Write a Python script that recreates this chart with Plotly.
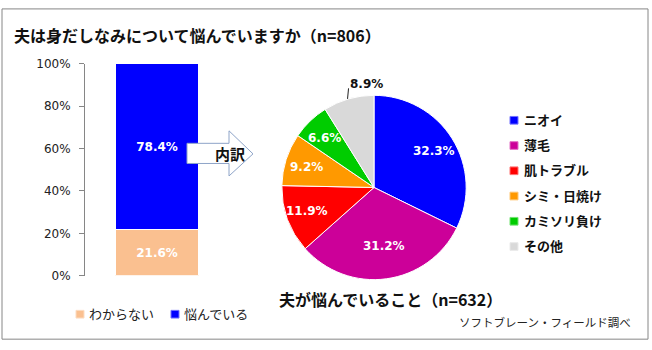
import math
import plotly.graph_objects as go

# --- data ---------------------------------------------------------------
bar_labels = ["わからない", "悩んでいる"]
bar_values = [21.6, 78.4]
bar_colors = ["#FAC090", "#0000FF"]

pie_labels = ["ニオイ", "薄毛", "肌トラブル", "シミ・日焼け", "カミソリ負け", "その他"]
pie_values = [32.3, 31.2, 11.9, 9.2, 6.6, 8.9]
pie_colors = ["#0000FF", "#CC0099", "#FF0000", "#FF9900", "#00CC00", "#D9D9D9"]

y_ticks = [0, 20, 40, 60, 80, 100]
y_tick_labels = [f"{v}%" for v in y_ticks]

title_main = "夫は身だしなみについて悩んでいますか（n=806）"
title_pie = "夫が悩んでいること（n=632）"
source_note = "ソフトブレーン・フィールド調べ"

# --- canvas helpers -----------------------------------------------------
W, H = 652, 350
JP = "Noto Sans CJK JP"
NUM = "DejaVu Sans"


def px(x):
    return x / W


def py(y):
    return 1 - y / H


def lighten(hex_color, f=0.45):
    r, g, b = (int(hex_color[i:i + 2], 16) for i in (1, 3, 5))
    r, g, b = (int(c + (255 - c) * f) for c in (r, g, b))
    return f"#{r:02X}{g:02X}{b:02X}"


fig = go.Figure()

# --- stacked 100% bar ---------------------------------------------------
for name, val, col in zip(bar_labels, bar_values, bar_colors):
    fig.add_trace(go.Bar(
        x=[0], y=[val], name=name, width=0.583,
        marker=dict(color=col, line=dict(color="white", width=1)),
        text=[f"{val:.1f}%"], textposition="inside", insidetextanchor="middle",
        textfont=dict(family=NUM, size=12, color="white", weight="bold"),
        showlegend=False, hoverinfo="skip",
    ))

# --- pie ----------------------------------------------------------------
cx, cy, R = 374, 188, 96
fig.add_trace(go.Pie(
    labels=pie_labels, values=pie_values, sort=False, direction="clockwise",
    rotation=0, textinfo="none", hoverinfo="skip", showlegend=False,
    marker=dict(colors=pie_colors, line=dict(color="white", width=1)),
    domain=dict(x=[px(cx - R), px(cx + R)], y=[py(cy + R), py(cy - R)]),
))

annotations = []
shapes = []

# slice value labels placed along each slice's mid-angle
total = sum(pie_values)
cum = 0.0
for i, (lab, val) in enumerate(zip(pie_labels, pie_values)):
    mid = (cum + val / 2) / total * 2 * math.pi
    cum += val
    if i < len(pie_values) - 1:
        r = 0.74 * R
        annotations.append(dict(
            x=px(cx + r * math.sin(mid)), y=py(cy - r * math.cos(mid)),
            xref="paper", yref="paper", showarrow=False,
            text=f"<b>{val:.1f}%</b>",
            font=dict(family=NUM, size=12, color="white"),
        ))
    else:
        ex, ey = cx + R * math.sin(mid), cy - R * math.cos(mid)
        shapes.append(dict(type="line", xref="paper", yref="paper",
                           x0=px(ex), y0=py(ey), x1=px(ex + 1), y1=py(ey - 11),
                           line=dict(color="#202020", width=1)))
        annotations.append(dict(
            x=px(ex + 0.5), y=py(ey - 15), xref="paper", yref="paper",
            xanchor="left", yanchor="middle", showarrow=False,
            text=f"<b>{val:.1f}%</b>",
            font=dict(family=NUM, size=12, color="#111111"),
        ))

# pie legend
for i, (lab, col) in enumerate(zip(pie_labels, pie_colors)):
    yc = 117 + 26.3 * i
    shapes.append(dict(type="rect", xref="paper", yref="paper",
                       x0=px(510), x1=px(518), y0=py(yc + 5), y1=py(yc - 3),
                       fillcolor=col, line=dict(color=lighten(col), width=1)))
    annotations.append(dict(
        x=px(522), y=py(yc), xref="paper", yref="paper",
        xanchor="left", yanchor="middle", showarrow=False,
        text=f"<b>{lab}</b>", font=dict(family=JP, size=13, color="#111111"),
    ))

# bar legend
for lab, col, x0 in zip(bar_labels, bar_colors, [76, 171]):
    yc = 319
    shapes.append(dict(type="rect", xref="paper", yref="paper",
                       x0=px(x0), x1=px(x0 + 8), y0=py(yc + 5), y1=py(yc - 3),
                       fillcolor=col, line=dict(color=lighten(col), width=1)))
    annotations.append(dict(
        x=px(x0 + 11), y=py(yc), xref="paper", yref="paper",
        xanchor="left", yanchor="middle", showarrow=False,
        text=lab, font=dict(family=JP, size=13, color="#222222"),
    ))

# "内訳" arrow callout
arrow_path = ("M {} {} L {} {} L {} {} L {} {} L {} {} L {} {} L {} {} Z".format(
    px(187), py(142), px(229), py(142), px(229), py(129), px(253), py(153),
    px(229), py(176), px(229), py(163), px(187), py(163)))
shapes.append(dict(type="path", xref="paper", yref="paper", path=arrow_path,
                   fillcolor="white", line=dict(color="#8EA4C8", width=1)))
annotations.append(dict(
    x=px(213), y=py(152.5), xref="paper", yref="paper", showarrow=False,
    text="<b>内訳</b>", font=dict(family=JP, size=15, color="#111111"),
))

# titles and source
annotations.append(dict(
    x=px(12), y=py(29), xref="paper", yref="paper", xanchor="left",
    yanchor="middle", showarrow=False, text=f"<b>{title_main}</b>",
    font=dict(family=JP, size=16, color="#111111"),
))
annotations.append(dict(
    x=px(277), y=py(304), xref="paper", yref="paper", xanchor="left",
    yanchor="middle", showarrow=False, text=f"<b>{title_pie}</b>",
    font=dict(family=JP, size=16, color="#111111"),
))
annotations.append(dict(
    x=px(633), y=py(328), xref="paper", yref="paper", xanchor="right",
    yanchor="middle", showarrow=False, text=source_note,
    font=dict(family=JP, size=11.5, color="#222222"),
))

# outer frame
shapes.append(dict(type="rect", xref="paper", yref="paper",
                   x0=px(2), x1=px(648), y0=py(346), y1=py(2),
                   line=dict(color="#868686", width=1), fillcolor="rgba(0,0,0,0)"))

fig.update_layout(
    width=W, height=H, margin=dict(l=0, r=0, t=0, b=0),
    paper_bgcolor="white", plot_bgcolor="white",
    barmode="stack", showlegend=False,
    annotations=annotations, shapes=shapes,
    xaxis=dict(domain=[px(85), px(229)], range=[-0.5, 0.5], visible=False,
               fixedrange=True),
    yaxis=dict(domain=[py(280), py(59)], range=[0, 100],
               tickvals=y_ticks, ticktext=y_tick_labels,
               ticks="outside", ticklen=5, tickcolor="#868686",
               showline=True, linecolor="#868686", linewidth=1,
               showgrid=False, zeroline=False, ticklabelstandoff=6,
               tickfont=dict(family=NUM, size=12, color="#222222"),
               fixedrange=True),
)

fig.write_html("out.html")
